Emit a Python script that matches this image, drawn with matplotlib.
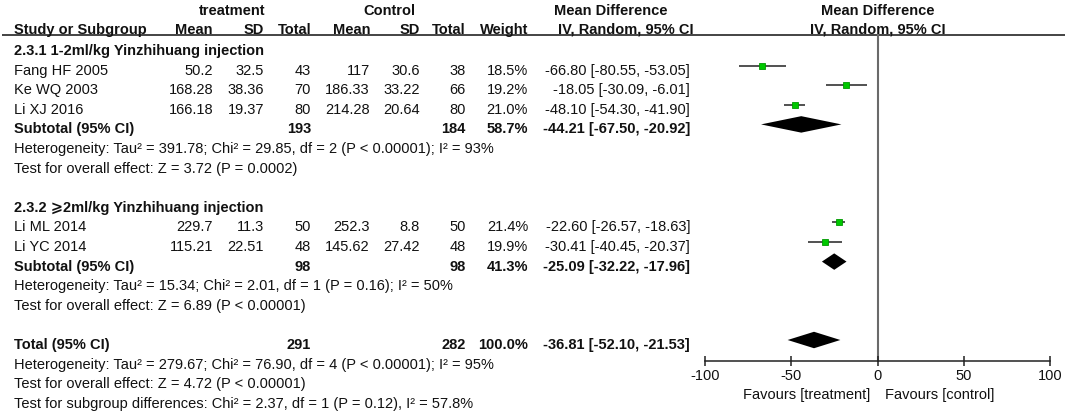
import matplotlib
matplotlib.use('Agg')
import matplotlib.pyplot as plt

plt.rcParams['font.family'] = ['Liberation Sans', 'DejaVu Sans']

# ---------------- data ----------------
group_labels = ['2.3.1 1-2ml/kg Yinzhihuang injection',
                '2.3.2 \u2a7e2ml/kg Yinzhihuang injection']
study_group = [0, 0, 0, 1, 1]
studies = ['Fang HF 2005', 'Ke WQ 2003', 'Li XJ 2016', 'Li ML 2014', 'Li YC 2014']
t_mean = [50.2, 168.28, 166.18, 229.7, 115.21]
t_sd = [32.5, 38.36, 19.37, 11.3, 22.51]
t_n = [43, 70, 80, 50, 48]
c_mean = [117, 186.33, 214.28, 252.3, 145.62]
c_sd = [30.6, 33.22, 20.64, 8.8, 27.42]
c_n = [38, 66, 80, 50, 48]
weight = [18.5, 19.2, 21.0, 21.4, 19.9]
md = [-66.80, -18.05, -48.10, -22.60, -30.41]
md_lo = [-80.55, -30.09, -54.30, -26.57, -40.45]
md_hi = [-53.05, -6.01, -41.90, -18.63, -20.37]

sub_t_n = [193, 98]
sub_c_n = [184, 98]
sub_weight = [58.7, 41.3]
sub_md = [-44.21, -25.09]
sub_lo = [-67.50, -32.22]
sub_hi = [-20.92, -17.96]
sub_het = ['Heterogeneity: Tau\u00b2 = 391.78; Chi\u00b2 = 29.85, df = 2 (P < 0.00001); I\u00b2 = 93%',
           'Heterogeneity: Tau\u00b2 = 15.34; Chi\u00b2 = 2.01, df = 1 (P = 0.16); I\u00b2 = 50%']
sub_test = ['Test for overall effect: Z = 3.72 (P = 0.0002)',
            'Test for overall effect: Z = 6.89 (P < 0.00001)']

total_t_n = 291
total_c_n = 282
total_weight = 100.0
total_md = -36.81
total_lo = -52.10
total_hi = -21.53
total_het = 'Heterogeneity: Tau\u00b2 = 279.67; Chi\u00b2 = 76.90, df = 4 (P < 0.00001); I\u00b2 = 95%'
total_test = 'Test for overall effect: Z = 4.72 (P < 0.00001)'
subgroup_diff = 'Test for subgroup differences: Chi\u00b2 = 2.37, df = 1 (P = 0.12), I\u00b2 = 57.8%'

x_ticks = [-100, -50, 0, 50, 100]
favours = ['Favours [treatment]', 'Favours [control]']

# ---------------- layout ----------------
W, H = 1065, 411
ROW0, ROWH = 46.0, 19.6
def prow(px):
    return (px - ROW0) / ROWH
YTOP, YBOT = prow(0), prow(H)
BASE = 0.46          # text baseline offset (rows)
FS = 10.5
COLS = dict(study=14, t_mean=213, t_sd=264, t_n=311, c_mean=370, c_sd=420,
            c_n=466, w=528, ci=690)
TXT = '#111111'

fig = plt.figure(figsize=(W / 100, H / 100), dpi=100)
ax_t = fig.add_axes([0, 0, 1, 1])
ax_t.set_xlim(0, W)
ax_t.set_ylim(YBOT, YTOP)
ax_t.axis('off')

ax = fig.add_axes([705 / W, 0, 345 / W, 1])
ax.set_xlim(-100, 100)
ax.set_ylim(YBOT, YTOP)
ax.patch.set_visible(False)

def t(x, row, s, ha='right', bold=False, axis=None, **kw):
    (axis or ax_t).text(x, row + BASE, s, ha=ha, va='baseline', fontsize=FS,
                        fontweight='bold' if bold else 'normal', color=TXT, **kw)

def fmt(v):
    return f'{v:g}'

def ci_text(m, lo, hi):
    return f'{m:.2f} [{lo:.2f}, {hi:.2f}]'

# header
h1, h2 = prow(15) - BASE, prow(34) - BASE
t(232, h1, 'treatment', ha='center', bold=True)
t(389, h1, 'Control', ha='center', bold=True)
t(611, h1, 'Mean Difference', ha='center', bold=True)
t(0, h1, 'Mean Difference', ha='center', bold=True, axis=ax)
t(COLS['study'], h2, 'Study or Subgroup', ha='left', bold=True)
for key, lab in [('t_mean', 'Mean'), ('t_sd', 'SD'), ('t_n', 'Total'),
                 ('c_mean', 'Mean'), ('c_sd', 'SD'), ('c_n', 'Total'), ('w', 'Weight')]:
    t(COLS[key], h2, lab, bold=True)
t(626, h2, 'IV, Random, 95% CI', ha='center', bold=True)
t(0, h2, 'IV, Random, 95% CI', ha='center', bold=True, axis=ax)
ax_t.hlines(prow(35), 2, W, color='#111111', lw=1.1)

# body
row = 0
for g in range(len(group_labels)):
    t(COLS['study'], row, group_labels[g], ha='left', bold=True)
    row += 1
    for i in range(len(studies)):
        if study_group[i] != g:
            continue
        t(COLS['study'], row, studies[i], ha='left')
        t(COLS['t_mean'], row, fmt(t_mean[i]))
        t(COLS['t_sd'], row, fmt(t_sd[i]))
        t(COLS['t_n'], row, str(t_n[i]))
        t(COLS['c_mean'], row, fmt(c_mean[i]))
        t(COLS['c_sd'], row, fmt(c_sd[i]))
        t(COLS['c_n'], row, str(c_n[i]))
        t(COLS['w'], row, f'{weight[i]:.1f}%')
        t(COLS['ci'], row, ci_text(md[i], md_lo[i], md_hi[i]))
        ax.plot([md_lo[i], md_hi[i]], [row, row], color='#333333', lw=1.2,
                solid_capstyle='butt', zorder=2)
        ax.plot([md[i]], [row], marker='s', ms=4.4 * (weight[i] / 20.0) ** 0.5,
                mfc='#00c800', mec='#009900', mew=0.6, zorder=3)
        row += 1
    t(COLS['study'], row, 'Subtotal (95% CI)', ha='left', bold=True)
    t(COLS['t_n'], row, str(sub_t_n[g]), bold=True)
    t(COLS['c_n'], row, str(sub_c_n[g]), bold=True)
    t(COLS['w'], row, f'{sub_weight[g]:.1f}%', bold=True)
    t(COLS['ci'], row, ci_text(sub_md[g], sub_lo[g], sub_hi[g]), bold=True)
    ax.fill([sub_lo[g], sub_md[g], sub_hi[g], sub_md[g]],
            [row, row - 0.42, row, row + 0.42], color='black', lw=0, zorder=3)
    row += 1
    t(COLS['study'], row, sub_het[g], ha='left')
    row += 1
    t(COLS['study'], row, sub_test[g], ha='left')
    row += 2

t(COLS['study'], row, 'Total (95% CI)', ha='left', bold=True)
t(COLS['t_n'], row, str(total_t_n), bold=True)
t(COLS['c_n'], row, str(total_c_n), bold=True)
t(COLS['w'], row, f'{total_weight:.1f}%', bold=True)
t(COLS['ci'], row, ci_text(total_md, total_lo, total_hi), bold=True)
ax.fill([total_lo, total_md, total_hi, total_md],
        [row, row - 0.42, row, row + 0.42], color='black', lw=0, zorder=3)
row += 1
t(COLS['study'], row, total_het, ha='left')
row += 1
t(COLS['study'], row, total_test, ha='left')
row += 1
t(COLS['study'], row, subgroup_diff, ha='left')

# axis + zero line
axis_row = prow(361)
ax.plot([0, 0], [prow(35), axis_row], color='#6a6a6a', lw=1.5, zorder=1)
for s in ['top', 'left', 'right']:
    ax.spines[s].set_visible(False)
ax.spines['bottom'].set_position(('data', axis_row))
ax.spines['bottom'].set_bounds(-100, 100)
ax.spines['bottom'].set_linewidth(1.1)
ax.spines['bottom'].set_color('#222222')
ax.set_xticks(x_ticks)
ax.set_xticklabels([str(v) for v in x_ticks])
ax.set_yticks([])
ax.tick_params(axis='x', direction='inout', length=7, width=1.1, color='#222222',
               labelsize=FS, pad=2.5, labelcolor=TXT)
fav_row = prow(399) - BASE
t(-4, fav_row, favours[0], ha='right', axis=ax)
t(4.5, fav_row, favours[1], ha='left', axis=ax)

fig.savefig('out.png', dpi=100)
